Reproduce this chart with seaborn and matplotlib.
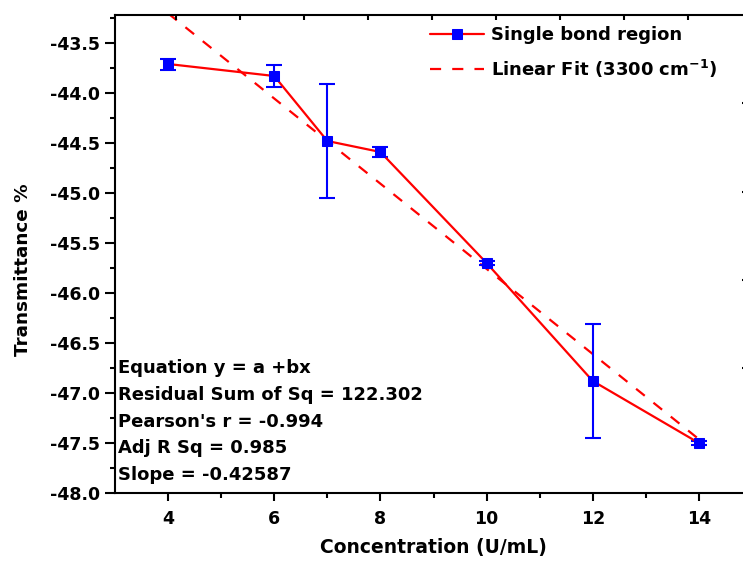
import numpy as np
import pandas as pd
import matplotlib
matplotlib.use("Agg")
import matplotlib.pyplot as plt
import seaborn as sns

# ---- data ----
concentration = [4, 6, 7, 8, 10, 12, 14]
transmittance = [-43.71, -43.83, -44.48, -44.59, -45.70, -46.88, -47.50]
error = [0.055, 0.11, 0.57, 0.05, 0.02, 0.57, 0.02]
fit_slope = -0.42587
fit_intercept = -41.50
fit_x = [4, 14]
stats_lines = ["Equation y = a +bx",
               "Residual Sum of Sq = 122.302",
               "Pearson's r = -0.994",
               "Adj R Sq = 0.985",
               "Slope = -0.42587"]
series_label = "Single bond region"
fit_label = r"Linear Fit (3300 cm$^{\mathbf{-1}}$)"
x_ticks = [4, 6, 8, 10, 12, 14]
y_ticks = [-48.0, -47.5, -47.0, -46.5, -46.0, -45.5, -45.0, -44.5, -44.0, -43.5]

sns.set_style("ticks")
plt.rcParams['font.family'] = ['DejaVu Sans']
plt.rcParams['font.weight'] = 'bold'
plt.rcParams['mathtext.default'] = 'bf'
plt.rcParams['axes.linewidth'] = 1.5
plt.rcParams['text.color'] = 'black'
plt.rcParams['axes.labelcolor'] = 'black'
plt.rcParams['xtick.color'] = 'black'
plt.rcParams['ytick.color'] = 'black'
plt.rcParams['axes.edgecolor'] = 'black'

df = pd.DataFrame({"x": concentration, "y": transmittance})
fit_df = pd.DataFrame({"x": fit_x,
                       "y": [fit_intercept + fit_slope * v for v in fit_x]})

W, H = 743, 564
fig = plt.figure(figsize=(W / 100, H / 100), dpi=100)
L, R, B, T = 115, 752, 493, 15
ax = fig.add_axes([L / W, (H - B) / H, (R - L) / W, (B - T) / H])

ax.errorbar(concentration, transmittance, yerr=error, fmt='none',
            ecolor='#0000FF', elinewidth=1.5, capsize=6, capthick=1.5, zorder=3)
sns.lineplot(data=df, x="x", y="y", ax=ax, color='#FF0000', linewidth=1.6,
             marker='s', markersize=7, markerfacecolor='#0000FF',
             markeredgecolor='#0000FF', label=series_label, zorder=4)
sns.lineplot(data=fit_df, x="x", y="y", ax=ax, color='#FF0000', linewidth=1.6,
             label=fit_label, zorder=2)
ax.lines[-1].set_linestyle((0, (5, 5)))

ax.set_xlim(3, 15)
ax.set_ylim(-48.0, -43.22)
ax.set_xticks(x_ticks)
ax.set_xticks([5, 7, 9, 11, 13], minor=True)
ax.set_yticks(y_ticks)
ax.set_yticks(np.arange(-47.75, -43.2, 0.5), minor=True)
ax.set_yticklabels([f"{v:.1f}" for v in y_ticks])
ax.tick_params(axis='both', which='major', direction='out', length=7, width=1.5,
               labelsize=12.5, pad=4, colors='black')
ax.tick_params(axis='x', which='major', length=6, pad=6)
ax.tick_params(axis='both', which='minor', direction='out', length=3.5, width=1.5)
for lab in ax.get_xticklabels() + ax.get_yticklabels():
    lab.set_fontweight('bold')

ax.set_xlabel("Concentration (U/mL)", fontsize=13.5, fontweight='bold')
ax.set_ylabel("Transmittance %", fontsize=13.2, fontweight='bold')
ax.xaxis.set_label_coords((433 - L) / (R - L), (B - 548) / (B - T))
ax.xaxis.label.set_va('center')
ax.yaxis.set_label_coords((23 - L) / (R - L), (B - 270) / (B - T))
ax.yaxis.label.set_va('center')

# top / right axis ticks (independent, as in the source figure)
axt = ax.twiny()
axt.set_xlim(0.05, 10.0)
axt.set_xticks(range(1, 10))
axt.tick_params(axis='x', direction='in', length=3.8, width=1.5, labeltop=False)
axr = ax.twinx()
axr.set_ylim(-0.41, 5.0)
axr.set_yticks([1, 2, 3, 4])
axr.tick_params(axis='y', direction='in', length=7.4, width=1.5, labelright=False)
for a in (axt, axr):
    for s in a.spines.values():
        s.set_visible(False)

# stats text
for i, line in enumerate(stats_lines):
    ax.text(118 / W, (H - (368 + 26.8 * i)) / H, line, transform=fig.transFigure,
            fontsize=13, fontweight='bold', ha='left', va='center', color='black')

leg = ax.legend(loc='upper left', bbox_to_anchor=((430 - L) / (R - L), (B - 26) / (B - T)),
                frameon=False, fontsize=13, handlelength=3.0, handletextpad=0.4,
                labelspacing=0.75, borderpad=0, borderaxespad=0)
for t in leg.get_texts():
    t.set_fontweight('bold')
    t.set_color('black')

fig.savefig("out.png", dpi=100)
